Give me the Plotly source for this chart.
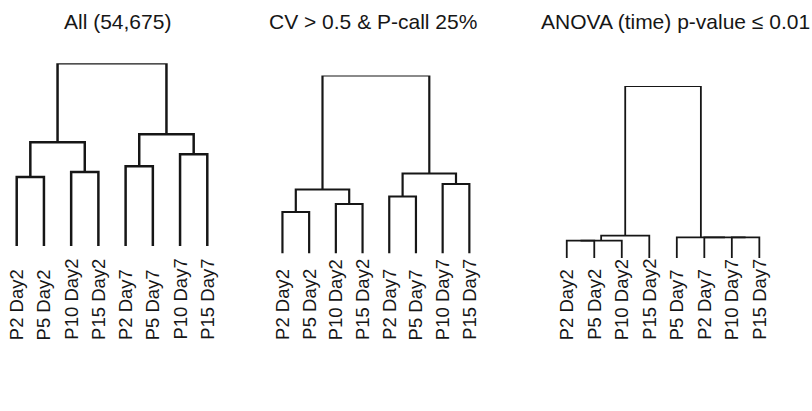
import plotly.graph_objects as go

# Sample labels (leaf order) and merge steps for each clustering.
# A merge is (left id, right id, height); ids 0-7 are leaves, 8+ are earlier merges.
titles = ["All (54,675)", "CV > 0.5 & P-call 25%", "ANOVA (time) p-value \u2264 0.01"]

labels_all = ["P2 Day2", "P5 Day2", "P10 Day2", "P15 Day2",
              "P2 Day7", "P5 Day7", "P10 Day7", "P15 Day7"]
merges_all = [(0, 1, 69), (2, 3, 74), (4, 5, 80), (6, 7, 92),
              (8, 9, 104), (10, 11, 112), (12, 13, 183)]

labels_cv = ["P2 Day2", "P5 Day2", "P10 Day2", "P15 Day2",
             "P2 Day7", "P5 Day7", "P10 Day7", "P15 Day7"]
merges_cv = [(0, 1, 41.5), (2, 3, 49.5), (4, 5, 57), (6, 7, 69.5),
             (8, 9, 64), (10, 11, 80), (12, 13, 178)]

labels_anova = ["P2 Day2", "P5 Day2", "P10 Day2", "P15 Day2",
                "P5 Day7", "P2 Day7", "P10 Day7", "P15 Day7"]
merges_anova = [(0, 1, 17.3), (8, 2, 17.3), (9, 3, 22.3), (6, 7, 20.7),
                (5, 11, 20.7), (4, 12, 20.7), (10, 13, 172)]

W, H = 812, 411
# panel frames in pixels: left/right leaf slot edges, leaf baseline, root level
frames = [
    dict(x0=3.1, x1=220.9, base=246.0, top=63.3, lw=2.5, title_x=117.5),
    dict(x0=269.1, x1=482.7, base=253.5, top=75.5, lw=2.2, title_x=373.0),
    dict(x0=553.0, x1=773.1, base=258.0, top=86.0, lw=1.8, title_x=675.0),
]
label_bottom_px = 342
title_mid_px = 21

TEXT_COLOR = "#161616"
LINE_COLOR = "#161616"


def dendro_path(n_leaves, merges):
    """Return x/y polylines (None-separated) for an hclust-style dendrogram."""
    pos = {i: (float(i), 0.0) for i in range(n_leaves)}
    xs, ys = [], []
    for k, (a, b, h) in enumerate(merges):
        xa, ha = pos[a]
        xb, hb = pos[b]
        xs += [xa, xa, xb, xb, None]
        ys += [ha, h, h, hb, None]
        pos[n_leaves + k] = ((xa + xb) / 2.0, h)
    return xs, ys


fig = go.Figure()
panels = [(labels_all, merges_all), (labels_cv, merges_cv), (labels_anova, merges_anova)]
annotations = []

for p, ((labels, merges), fr, title) in enumerate(zip(panels, frames, titles)):
    idx = "" if p == 0 else str(p + 1)
    xs, ys = dendro_path(len(labels), merges)
    fig.add_trace(go.Scatter(
        x=xs, y=ys, mode="lines",
        line=dict(color=LINE_COLOR, width=fr["lw"]),
        xaxis="x" + idx, yaxis="y" + idx,
        hoverinfo="skip", showlegend=False,
    ))
    max_h = max(m[2] for m in merges)
    fig.update_layout({
        "xaxis" + idx: dict(domain=[fr["x0"] / W, fr["x1"] / W],
                            range=[-0.5, len(labels) - 0.5], visible=False,
                            anchor="y" + idx),
        "yaxis" + idx: dict(domain=[1 - fr["base"] / H, 1 - fr["top"] / H],
                            range=[0, max_h], visible=False,
                            anchor="x" + idx),
    })
    for i, lab in enumerate(labels):
        annotations.append(dict(
            text=lab, x=i, xref="x" + idx, y=1 - label_bottom_px / H, yref="paper",
            xanchor="center", yanchor="bottom", textangle=-90, showarrow=False,
            font=dict(family="Liberation Sans, Arial, sans-serif",
                      size=18.5, color=TEXT_COLOR),
        ))
    annotations.append(dict(
        text=title, x=fr["title_x"] / W, xref="paper", y=1 - title_mid_px / H, yref="paper",
        xanchor="center", yanchor="middle", showarrow=False,
        font=dict(family="Liberation Sans, Arial, sans-serif", size=21, color=TEXT_COLOR),
    ))

fig.update_layout(
    width=W, height=H,
    margin=dict(l=0, r=0, t=0, b=0),
    paper_bgcolor="white", plot_bgcolor="white",
    annotations=annotations,
    showlegend=False,
)

fig.write_html("out.html")
